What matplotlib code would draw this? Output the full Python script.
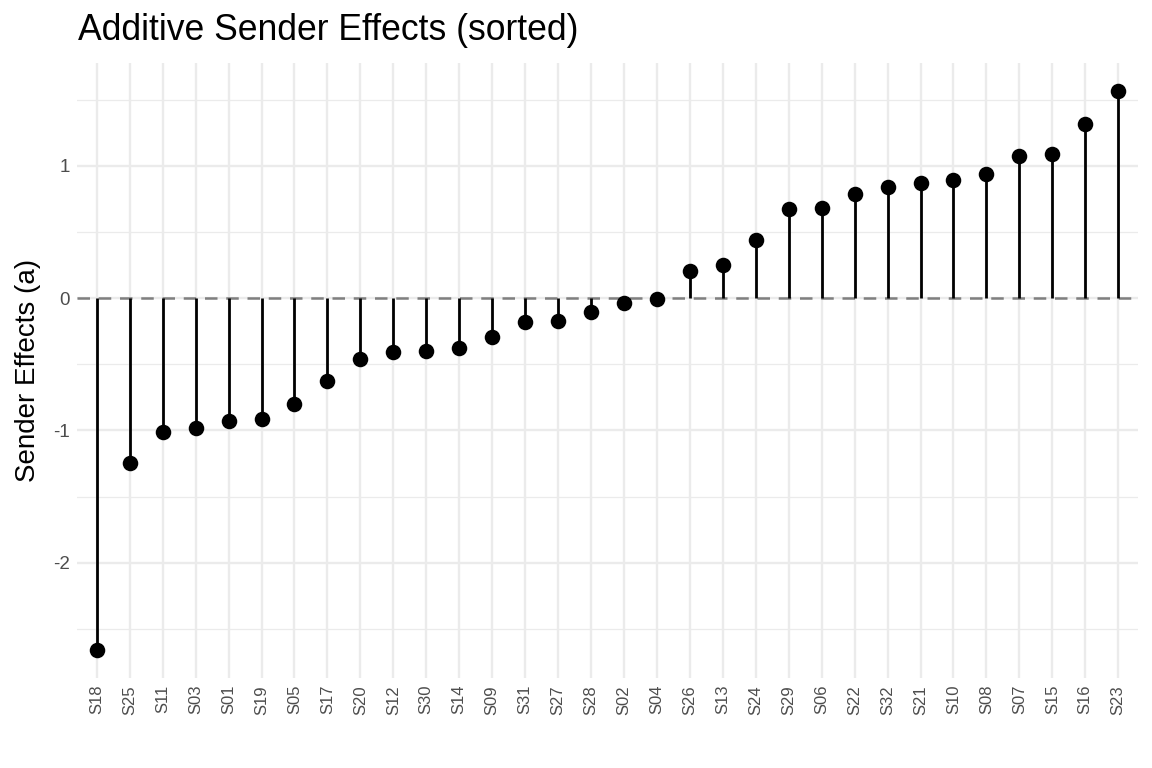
import matplotlib
matplotlib.use("Agg")
import matplotlib.pyplot as plt
import numpy as np

plt.rcParams['font.family'] = ['Liberation Sans', 'DejaVu Sans']

# sender effects, already sorted ascending
senders = ['S18', 'S25', 'S11', 'S03', 'S01', 'S19', 'S05', 'S17', 'S20', 'S12',
           'S30', 'S14', 'S09', 'S31', 'S27', 'S28', 'S02', 'S04', 'S26', 'S13',
           'S24', 'S29', 'S06', 'S22', 'S32', 'S21', 'S10', 'S08', 'S07', 'S15',
           'S16', 'S23']
effects = [-2.66, -1.244, -1.013, -0.982, -0.932, -0.917, -0.804, -0.625, -0.463, -0.408,
           -0.398, -0.375, -0.297, -0.184, -0.171, -0.108, -0.035, -0.006, 0.204, 0.246,
           0.435, 0.671, 0.678, 0.786, 0.842, 0.869, 0.894, 0.937, 1.075, 1.088,
           1.314, 1.565]

x = np.arange(1, len(senders) + 1)
y = np.array(effects)

fig = plt.figure(figsize=(11.52, 7.68), dpi=100)
ax = fig.add_axes([77 / 1152, 1 - 678 / 768, (1138 - 77) / 1152, (678 - 63) / 768])

# grid like theme_minimal
for v in x:
    ax.axvline(v, color='#EBEBEB', lw=1.7, zorder=0)
for h in [-2, -1, 0, 1]:
    ax.axhline(h, color='#EBEBEB', lw=1.7, zorder=0)
for h in [-2.5, -1.5, -0.5, 0.5, 1.5]:
    ax.axhline(h, color='#EBEBEB', lw=0.9, zorder=0)

ax.axhline(0, color='#7F7F7F', lw=1.8, dashes=(5, 3.5), zorder=1)
ax.vlines(x, 0, y, color='black', lw=2.0, zorder=2)
ax.scatter(x, y, s=125, color='black', zorder=3, linewidths=0)

rng = y.max() - y.min()
ax.set_ylim(y.min() - 0.05 * rng, y.max() + 0.05 * rng)
ax.set_xlim(0.4, len(senders) + 0.6)

ax.set_xticks(x)
ax.set_xticklabels(senders, rotation=90, fontsize=12, color='#4D4D4D')
ax.set_yticks([-2, -1, 0, 1])
ax.set_yticklabels(['-2', '-1', '0', '1'], fontsize=13.5, color='#4D4D4D')
ax.tick_params(length=0, pad=5)
for s in ax.spines.values():
    s.set_visible(False)

ax.set_ylabel('Sender Effects (a)', fontsize=20, labelpad=9)
fig.text(78 / 1152, 1 - 40 / 768, 'Additive Sender Effects (sorted)', fontsize=25.6,
         ha='left', va='baseline')

fig.savefig('out.png', dpi=100)
